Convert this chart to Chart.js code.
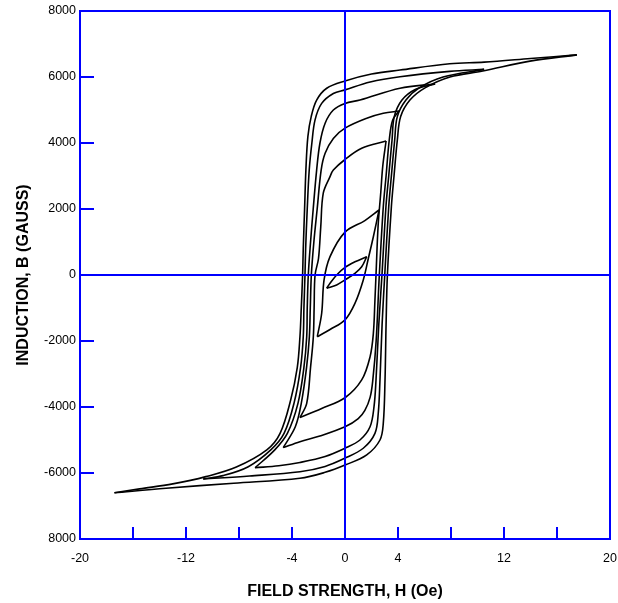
<!DOCTYPE html>
<html>
<head>
<meta charset="utf-8">
<script src="https://cdn.jsdelivr.net/npm/chart.js@4.4.1/dist/chart.umd.min.js"></script>
<style>
  html, body { margin: 0; padding: 0; background: #fff; overflow: hidden; }
  #wrap { width: 618px; height: 603px; }
  canvas { display: block; }
</style>
</head>
<body>
<div id="wrap"><canvas id="chart"></canvas></div>
<script>
// H (Oe), B (gauss); each loop = descending (upper) + ascending (lower) branch
const loop1Upper = [[17.5,6670],[14,6560],[10.5,6450],[7.9,6400],[4.15,6210],[2,6090],[0,5880],[-1.38,5660],[-2.14,5300],[-2.55,4800],[-2.8,4200],[-2.95,3200],[-3.05,2000],[-3.15,800],[-3.2,0],[-3.3,-1000],[-3.4,-1870],[-3.6,-2800],[-4.1,-3790],[-4.9,-4800],[-5.9,-5300],[-8.2,-5820],[-10.5,-6110],[-13,-6330],[-15.5,-6480],[-17.4,-6600]];
const loop1Lower = [[-17.4,-6600],[-13.5,-6460],[-8.4,-6310],[-3.4,-6160],[-1.5,-5980],[0,-5760],[1.64,-5450],[2.64,-5000],[2.89,-4490],[3.02,-3180],[3.1,-1500],[3.2,0],[3.5,2070],[3.7,3000],[3.95,4090],[4.2,4800],[4.9,5300],[6.04,5670],[7.92,6000],[10.4,6180],[13.96,6480],[17.5,6670]];
const loop2Upper = [[10.5,6230],[7.9,6170],[4.15,6010],[1.9,5850],[0,5610],[-0.88,5500],[-1.76,5200],[-2.26,4700],[-2.5,4000],[-2.7,3180],[-2.85,2000],[-2.97,800],[-3.02,0],[-3.1,-1000],[-3.15,-1870],[-3.35,-2800],[-3.85,-3890],[-4.6,-4800],[-5.6,-5300],[-7.3,-5810],[-9.2,-6080],[-10.7,-6180]];
const loop2Lower = [[-10.7,-6180],[-7.2,-6090],[-3.4,-5960],[-1.5,-5800],[0,-5550],[1.38,-5250],[2.26,-4800],[2.51,-4190],[2.64,-3180],[2.8,-1500],[3,0],[3.3,2070],[3.5,3000],[3.75,4090],[3.95,4800],[4.6,5300],[5.6,5670],[7.4,6000],[10.5,6230]];
const loop3Upper = [[6.8,5790],[4.15,5660],[1.13,5300],[0,5200],[-0.88,5000],[-1.5,4600],[-1.89,4000],[-2.14,3180],[-2.4,2000],[-2.6,1000],[-2.77,0],[-2.85,-1000],[-2.89,-1870],[-3.1,-2800],[-3.55,-3890],[-4.35,-4800],[-5.3,-5300],[-6.79,-5840]];
const loop3Lower = [[-6.79,-5840],[-5,-5780],[-3.4,-5680],[-1.5,-5500],[0,-5250],[1.13,-5000],[1.89,-4600],[2.19,-3990],[2.34,-3180],[2.55,-1500],[2.79,0],[3.09,2070],[3.3,3000],[3.55,4090],[3.72,4800],[4.3,5300],[5.3,5620],[6.8,5790]];
const loop4Upper = [[4.08,4970],[2.89,4900],[1.64,4750],[0,4450],[-0.88,4140],[-1.5,3690],[-1.8,3180],[-2.1,2000],[-2.35,1000],[-2.54,0],[-2.62,-1000],[-2.69,-1870],[-2.9,-2800],[-3.3,-3890],[-3.75,-4600],[-4.66,-5230]];
const loop4Lower = [[-4.66,-5230],[-3.4,-5050],[-1.9,-4880],[0,-4600],[1,-4350],[1.5,-4100],[1.9,-3700],[2.1,-3180],[2.35,-2000],[2.59,0],[2.89,2070],[3.1,3000],[3.34,4090],[3.6,4700],[4.08,4970]];
const loop5Upper = [[3.1,4060],[1.26,3840],[0,3500],[-0.88,3180],[-1.13,2980],[-1.64,2480],[-1.83,1460],[-2,500],[-2.26,0],[-2.33,-1000],[-2.39,-1870],[-2.6,-2800],[-2.89,-3890],[-3.4,-4320]];
const loop5Lower = [[-3.4,-4320],[-1.8,-4050],[0,-3720],[1.26,-3180],[1.89,-2480],[2.14,-1770],[2.26,-760],[2.34,0],[2.5,1500],[2.7,2500],[2.85,3300],[3.1,4060]];
const loop6Upper = [[2.57,1970],[1.5,1650],[0,1300],[-1.13,555],[-1.58,-150],[-1.76,-1160],[-2.09,-1870]];
const loop6Lower = [[-2.09,-1870],[-1.13,-1650],[0,-1360],[0.75,-860],[1.38,-150],[1.76,500],[2.14,1160],[2.57,1970]];
const loop7Upper = [[1.64,555],[0.75,400],[0,230],[-0.63,0],[-1.13,-250],[-1.38,-400]];
const loop7Lower = [[-1.38,-400],[-0.63,-300],[0,-150],[0.75,50],[1.26,250],[1.64,555]];

const xTickValues = [-16, -12, -8, -4, 4, 8, 12, 16];
const xTickLabels = [-20, -12, -4, 0, 4, 12, 20];
const yTickValues = [-8000, -6000, -4000, -2000, 0, 2000, 4000, 6000, 8000];
const yTickLabels = ['8000', '-6000', '-4000', '-2000', '0', '2000', '4000', '6000', '8000'];

const branches = [loop1Upper, loop1Lower, loop2Upper, loop2Lower, loop3Upper, loop3Lower,
    loop4Upper, loop4Lower, loop5Upper, loop5Lower, loop6Upper, loop6Lower, loop7Upper, loop7Lower];

const BLUE = '#0000ff';
const FONT = "'Liberation Sans', Arial, sans-serif";

// blue frame, zero lines and inward tick marks
const framePlugin = {
    id: 'frame',
    afterDatasetsDraw(chart) {
        const { ctx, chartArea: a, scales: { x, y } } = chart;
        ctx.save();
        ctx.strokeStyle = BLUE;
        ctx.lineWidth = 2;
        ctx.strokeRect(a.left, a.top, a.right - a.left, a.bottom - a.top);
        ctx.beginPath();
        const x0 = x.getPixelForValue(0);
        const y0 = y.getPixelForValue(0);
        ctx.moveTo(x0, a.top); ctx.lineTo(x0, a.bottom);
        ctx.moveTo(a.left, y0); ctx.lineTo(a.right, y0);
        xTickValues.forEach(v => {
            const px = x.getPixelForValue(v);
            ctx.moveTo(px, a.bottom); ctx.lineTo(px, a.bottom - 12);
        });
        yTickValues.forEach(v => {
            const py = y.getPixelForValue(v);
            ctx.moveTo(a.left, py); ctx.lineTo(a.left + 14, py);
        });
        ctx.stroke();
        ctx.restore();
    }
};

new Chart(document.getElementById('chart'), {
    type: 'scatter',
    data: {
        datasets: branches.map(b => ({
            data: b.map(([h, v]) => ({ x: h, y: v })),
            showLine: true,
            borderColor: '#000',
            borderWidth: 1.6,
            pointRadius: 0,
            tension: 0.35,
            fill: false
        }))
    },
    options: {
        responsive: true,
        maintainAspectRatio: false,
        animation: false,
        layout: { padding: { top: 11, right: 8, left: 0, bottom: 0 } },
        plugins: { legend: { display: false }, tooltip: { enabled: false } },
        scales: {
            x: {
                type: 'linear',
                min: -20,
                max: 20,
                grid: { display: false, drawTicks: false },
                border: { display: false },
                afterFit: s => { s.height = 64; s.paddingLeft = 0; s.paddingRight = 0; },
                afterBuildTicks: s => { s.ticks = xTickLabels.map(v => ({ value: v })); },
                ticks: {
                    autoSkip: false,
                    maxRotation: 0,
                    padding: 12,
                    color: '#000',
                    font: { family: FONT, size: 12.5 },
                    callback: v => String(v)
                },
                title: {
                    display: true,
                    text: 'FIELD STRENGTH, H (Oe)',
                    color: '#000',
                    padding: { top: 0, bottom: 2 },
                    font: { family: FONT, size: 16, weight: 'bold' }
                }
            },
            y: {
                type: 'linear',
                min: -8000,
                max: 8000,
                grid: { display: false, drawTicks: false },
                border: { display: false },
                afterFit: s => { s.width = 80; s.paddingTop = 0; s.paddingBottom = 0; },
                afterBuildTicks: s => { s.ticks = yTickValues.map(v => ({ value: v })); },
                ticks: {
                    autoSkip: false,
                    padding: 4,
                    color: '#000',
                    font: { family: FONT, size: 12.5 },
                    callback: (v, i) => yTickLabels[i]
                },
                title: {
                    display: true,
                    text: 'INDUCTION, B (GAUSS)',
                    color: '#000',
                    padding: { top: 14, bottom: 0 },
                    font: { family: FONT, size: 16, weight: 'bold' }
                }
            }
        }
    },
    plugins: [framePlugin]
});
</script>
</body>
</html>
